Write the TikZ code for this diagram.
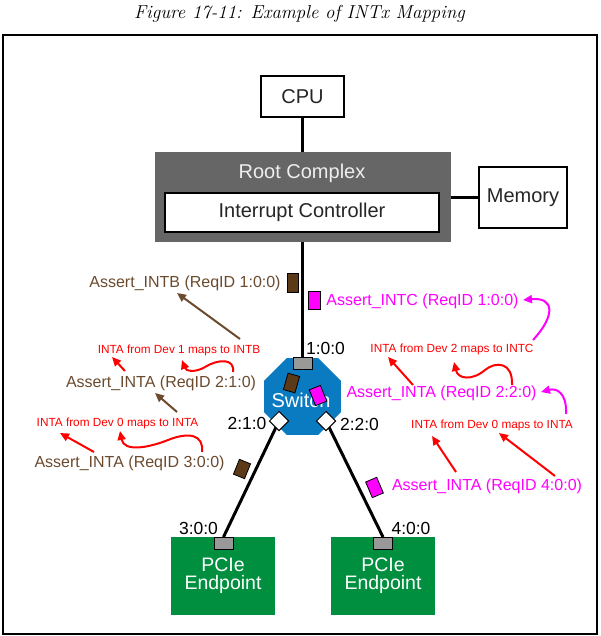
\documentclass[tikz,border=0pt]{standalone}
\usepackage{fontspec}
\newfontfamily\sansf{Liberation Sans}
\usetikzlibrary{arrows.meta,shapes.geometric}
\definecolor{rcgray}{HTML}{666666}
\definecolor{brn}{HTML}{5C3A17}
\definecolor{brntxt}{HTML}{6B4A2E}
\definecolor{mag}{HTML}{FF00FF}
\definecolor{swblue}{HTML}{0A7BC1}
\definecolor{epgreen}{HTML}{008F3F}
\definecolor{portgray}{HTML}{999999}
\definecolor{rctxt}{HTML}{EEEEEE}
\begin{document}
\begin{tikzpicture}[x=1pt,y=-1pt,font=\sansf,
  box/.style={draw=black,line width=2pt,fill=white,inner sep=0pt,outer sep=0pt,font=\sansf\fontsize{20}{22}\selectfont,text=black!85},
  assert/.style={font=\sansf\fontsize{16}{18}\selectfont,inner sep=0pt},
  mapl/.style={font=\sansf\fontsize{11.8}{13}\selectfont,text=red,inner sep=0pt},
  portlbl/.style={font=\sansf\fontsize{17.5}{19}\selectfont,inner sep=0pt,text=black},
  token/.style={draw=black,line width=0.8pt,minimum width=12pt,minimum height=18pt,inner sep=0pt},
  port/.style={draw=black,line width=1pt,fill=portgray,minimum width=19pt,minimum height=12pt,inner sep=0pt,outer sep=0pt},
  dport/.style={draw=black,line width=1pt,fill=white,minimum size=13.5pt,inner sep=0pt,rotate=45},
  link/.style={line width=3pt,draw=black},
  ep/.style={fill=epgreen,minimum width=104pt,minimum height=78pt,inner sep=0pt,align=center,text=white,font=\sansf\fontsize{19.5}{18}\selectfont},
  arr/.style={line width=2pt,-{Triangle[length=9pt,width=8pt]}}]
\useasboundingbox (0,0) rectangle (600,636);
% title and frame
\node[font=\rmfamily\itshape\fontsize{18.8}{21}\selectfont] (title) at (299.5,14) {Figure 17-11: Example of INTx Mapping};
\draw[line width=1.5pt] (3,35) rectangle (597,634);
% top part
\node[box,minimum width=83pt,minimum height=41pt] (cpu) at (302.5,96.5) {CPU};
\node[fill=rcgray,minimum width=296pt,minimum height=90pt,inner sep=0pt,outer sep=0pt] (rc) at (303,197) {};
\node[text=rctxt,font=\sansf\fontsize{20}{22}\selectfont] (rctext) at (302,173) {Root Complex};
\node[box,minimum width=274pt,minimum height=39pt] (ic) at (302,212.5) {Interrupt Controller};
\node[box,minimum width=88pt,minimum height=61pt] (mem) at (523,197.5) {Memory};
\draw[link] (cpu.south) -- (cpu.south |- rc.north);
\draw[link] (mem.west) -- (mem.west -| rc.east);
% switch
\node[regular polygon,regular polygon sides=8,minimum size=83pt,fill=swblue,inner sep=0pt] (sw) at (302.5,396.5) {};
\node[text=white,font=\sansf\fontsize{20}{22}\selectfont] (swtext) at (301,400) {Switch};
\node[port] (p100) at (302.5,363) {};
\draw[link] (rc.south -| p100.north) -- (p100.north);
% endpoints
\node[ep] (ep3) at (223,576) {PCIe\\Endpoint};
\node[ep] (ep4) at (383,576) {PCIe\\Endpoint};
\node[port] (p300) at (223.5,543) {};
\node[port] (p400) at (383,543) {};
\coordinate (c210) at (279,421);
\coordinate (c220) at (326,421);
\draw[link] (c210) -- (p300.north);
\draw[link] (c220) -- (p400.north);
\node[dport] (p210) at (c210) {};
\node[dport] (p220) at (c220) {};
% port labels
\node[portlbl] (l100) at (325.5,348) {1:0:0};
\node[portlbl] (l210) at (247,423) {2:1:0};
\node[portlbl] (l220) at (359.5,424) {2:2:0};
\node[portlbl] (l300) at (198.5,528) {3:0:0};
\node[portlbl] (l400) at (411,528) {4:0:0};
% tokens
\node[token,fill=brn,minimum width=11pt,minimum height=19pt] (tb1) at (292.5,282.5) {};
\node[token,fill=mag] (tm1) at (314.5,300) {};
\node[token,fill=brn,minimum height=17pt,rotate=-16] (tb2) at (291.5,383) {};
\node[token,fill=mag,minimum height=17pt,rotate=22] (tm2) at (318,395.5) {};
\node[token,fill=brn,minimum height=16pt,rotate=-22] (tb3) at (242,469) {};
\node[token,fill=mag,minimum height=17pt,rotate=23] (tm3) at (374.5,487.5) {};
% left labels
\node[assert,text=brntxt] (aB) at (185,283) {Assert\_INTB (ReqID 1:0:0)};
\node[mapl] (m1) at (179,350) {INTA from Dev 1 maps to INTB};
\node[assert,text=brntxt] (a210) at (161,383) {Assert\_INTA (ReqID 2:1:0)};
\node[mapl] (m0l) at (117.5,423) {INTA from Dev 0 maps to INTA};
\node[assert,text=brntxt] (a300) at (129.5,463) {Assert\_INTA (ReqID 3:0:0)};
% right labels
\node[assert,text=mag] (aC) at (422.5,301) {Assert\_INTC (ReqID 1:0:0)};
\node[mapl] (m2) at (452,349) {INTA from Dev 2 maps to INTC};
\node[assert,text=mag] (a220) at (441.5,393) {Assert\_INTA (ReqID 2:2:0)};
\node[mapl] (m0r) at (492,425) {INTA from Dev 0 maps to INTA};
\node[assert,text=mag] (a400) at (487,486) {Assert\_INTA (ReqID 4:0:0)};
% arrow end points
\coordinate (b1s) at (240,339); \coordinate (b1e) at (177,293);
\coordinate (b2s) at (177,412); \coordinate (b2e) at (155,393);
\coordinate (r1s) at (125,371); \coordinate (r1e) at (112,357);
\coordinate (r2s) at (233,372); \coordinate (r2e) at (182,360);
\coordinate (r3s) at (94,452);  \coordinate (r3e) at (60,433);
\coordinate (r4s) at (202,452); \coordinate (r4e) at (120,431);
\coordinate (r5s) at (413,385); \coordinate (r5e) at (388,357);
\coordinate (r6s) at (512,385); \coordinate (r6e) at (454,362);
\coordinate (r7s) at (456,472); \coordinate (r7e) at (432,436);
\coordinate (r8s) at (555,476); \coordinate (r8e) at (499,433);
\coordinate (m1s) at (533,340); \coordinate (m1e) at (523,300);
\coordinate (m2s) at (566,414); \coordinate (m2e) at (541,392);
% arrows
\draw[arr,brntxt] (b1s) -- (b1e);
\draw[arr,brntxt] (b2s) -- (b2e);
\draw[arr,red] (r1s) -- (r1e);
\draw[arr,red] (r2s) .. controls (235,358) and (218,359) .. (205,367) .. controls (195,373) and (186,371) .. (r2e);
\draw[arr,red] (r3s) -- (r3e);
\draw[arr,red] (r4s) .. controls (204,434) and (188,432) .. (168,440) .. controls (148,448) and (124,452) .. (r4e);
\draw[arr,red] (r5s) -- (r5e);
\draw[arr,red] (r6s) .. controls (513,362) and (496,361) .. (485,370) .. controls (472,381) and (458,379) .. (r6e);
\draw[arr,red] (r7s) -- (r7e);
\draw[arr,red] (r8s) -- (r8e);
\draw[arr,mag] (m1s) .. controls (556,315) and (554,297) .. (m1e);
\draw[arr,mag] (m2s) .. controls (567,392) and (556,388) .. (m2e);
\end{tikzpicture}
\end{document}
